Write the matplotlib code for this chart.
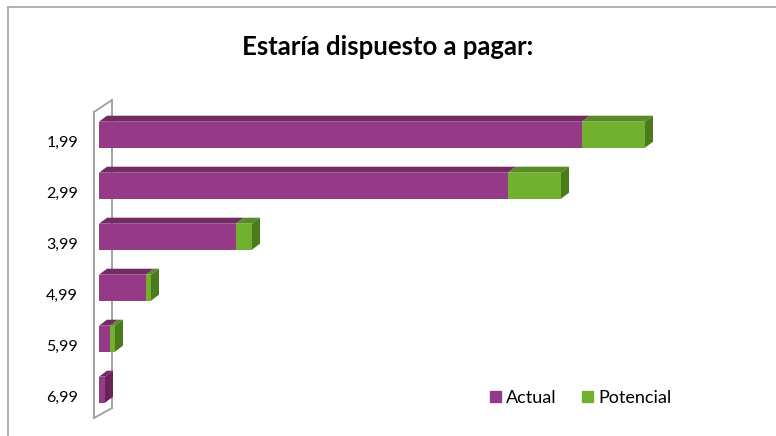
import matplotlib.pyplot as plt
import matplotlib.transforms as mtransforms
from matplotlib.patches import Polygon, Patch
from matplotlib.lines import Line2D

plt.rcParams['font.family'] = ['Lato', 'DejaVu Sans']

# datos
precios = ['1,99', '2,99', '3,99', '4,99', '5,99', '6,99']
actual = [483, 409, 137, 47, 11, 6]
potencial = [63, 53, 16, 5, 5, 0]

col_act = ['#953A86', '#742A63', '#6A2259']   # frente, arriba, lado
col_pot = ['#72B12F', '#578C24', '#4B7B1D']
dx, dy = 8, 6   # profundidad en pixeles

W, H = 776, 436
fig = plt.figure(figsize=(W / 100, H / 100), dpi=100)
ax = fig.add_axes([99 / W, 0, 1 - 99 / W, 1])
ax.patch.set_visible(False)
ax.set_xlim(0, W - 99)
paso = 51
ax.set_ylim((H - 134.7) / paso, -134.7 / paso)
for s in ax.spines.values():
    s.set_visible(False)
ax.set_xticks([])


def fx(p):
    return p / W


def fy(p):
    return 1 - p / H


# marco exterior
fig.add_artist(Line2D([fx(7.5), 1], [fy(7.5), fy(7.5)], color='#ababab', lw=1.3))
fig.add_artist(Line2D([fx(7.5), fx(7.5)], [fy(7.5), 0], color='#ababab', lw=1.3))

# pared lateral (parte de atras)
gris = '#a3a3a3'
fig.add_artist(Line2D([fx(112), fx(112)], [fy(100), fy(408)], color=gris, lw=1.4, zorder=0))
fig.add_artist(Line2D([fx(94), fx(112)], [fy(112), fy(100)], color=gris, lw=1.4, zorder=0))
fig.add_artist(Line2D([fx(94), fx(112)], [fy(418), fy(408)], color=gris, lw=1.4, zorder=0))

alto = 26 / paso
y = list(range(len(precios)))
ax.barh(y, actual, height=alto, color=col_act[0], zorder=3)
ax.barh(y, potencial, left=actual, height=alto, color=col_pot[0], zorder=3)

# caras superior y lateral de cada barra
fig.canvas.draw()
T = ax.transData
for i in range(len(precios)):
    segs = [(0, actual[i], col_act)]
    if potencial[i] > 0:
        segs.append((actual[i], actual[i] + potencial[i], col_pot))
    for x0, x1, c in segs:
        (px0, pyb), (px1, pyt) = T.transform([(x0, i + alto / 2), (x1, i - alto / 2)])
        top = [(px0, pyt), (px1, pyt), (px1 + dx, pyt + dy), (px0 + dx, pyt + dy)]
        ax.add_patch(Polygon(top, closed=True, facecolor=c[1], edgecolor='none',
                             transform=mtransforms.IdentityTransform(), zorder=2))
    x_end = actual[i] + potencial[i]
    c = segs[-1][2]
    (pxe, pyb), (_, pyt) = T.transform([(x_end, i + alto / 2), (x_end, i - alto / 2)])
    side = [(pxe, pyb), (pxe, pyt), (pxe + dx, pyt + dy), (pxe + dx, pyb + dy)]
    ax.add_patch(Polygon(side, closed=True, facecolor=c[2], edgecolor='none',
                         transform=mtransforms.IdentityTransform(), zorder=2))

# pared lateral (borde delantero)
fig.add_artist(Line2D([fx(94), fx(94)], [fy(112), fy(418)], color=gris, lw=1.4, zorder=5))

ax.set_yticks(y)
ax.set_yticklabels(precios, fontsize=11.5)
ax.tick_params(axis='y', length=0, pad=15)
baja = mtransforms.ScaledTranslation(0, -6.5 / 100, fig.dpi_scale_trans)
for t in ax.get_yticklabels():
    t.set_transform(t.get_transform() + baja)

fig.text(0.5, fy(47), 'Estaría dispuesto a pagar:', ha='center', va='center',
         fontsize=18.5, fontweight='bold')

handles = [Patch(color=col_act[0], label='Actual'), Patch(color=col_pot[0], label='Potencial')]
fig.legend(handles=handles, loc='center', bbox_to_anchor=(fx(581), fy(398)), ncol=2,
           frameon=False, fontsize=13, handlelength=0.6, handleheight=0.6,
           handletextpad=0.3, columnspacing=1.4)

fig.savefig('out.png', dpi=100)
